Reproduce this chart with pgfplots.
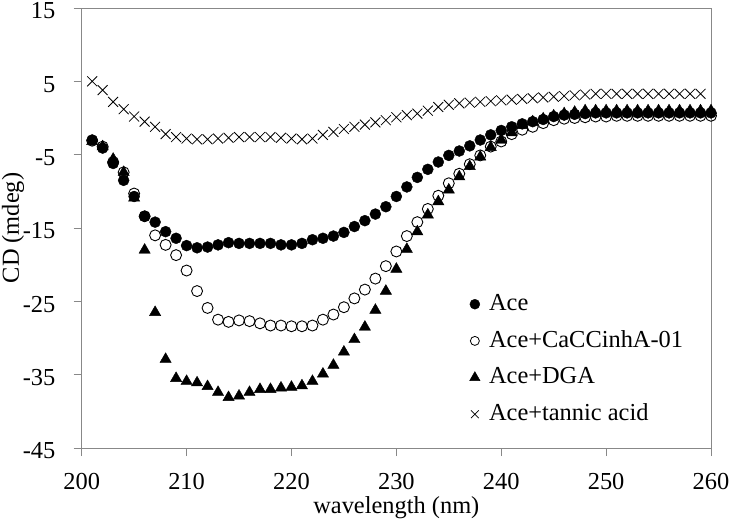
\documentclass[border=0pt]{standalone}
\usepackage{fontspec}
\setmainfont{Liberation Serif}
\usepackage{pgfplots}
\pgfplotsset{compat=1.18}
\definecolor{axgray}{HTML}{888888}
\begin{document}
\fontsize{24.5}{29}\selectfont
\begin{tikzpicture}
\begin{axis}[
  scale only axis,
  width=629.3bp, height=440bp,
  at={(0,0)}, anchor=south west,
  xmin=200, xmax=260, ymin=-45, ymax=15,
  xtick={200,210,...,260},
  ytick={-45,-35,-25,-15,-5,5,15},
  yticklabels={-45,-35,-25,-15,-5,5,15},
  xticklabels={200,210,220,230,240,250,260},
  tick align=outside,
  xtick pos=left, ytick pos=left,
  major tick length=8bp,
  axis line style={axgray, line width=0.8bp},
  every tick/.style={axgray, line width=0.8bp},
  tick label style={font=\fontsize{24.5}{29}\selectfont},
  xticklabel style={yshift=-9bp},
  yticklabel style={xshift=-10bp, yshift=-3bp},
  label style={font=\fontsize{24.5}{29}\selectfont},
  xlabel={wavelength (nm)},
  ylabel={CD (mdeg)},
  xlabel style={at={(axis description cs:0.5,-0.135)}, anchor=center},
  ylabel style={at={(axis description cs:-0.109,0.5)}, anchor=center, rotate=0},
  legend style={draw=none, fill=none, at={(axis cs:236.4,-23.2)}, anchor=north west,
    font=\fontsize{24.5}{29}\selectfont, row sep=8.5bp,
    nodes={inner ysep=4bp}},
  legend cell align=left,
  legend image code/.code={\path (-8bp,0bp) (12bp,0bp); \draw[#1] plot coordinates {(0bp,0bp)};},
]
% drawn in z-order: open circles, triangles, filled circles, crosses
\addplot[only marks, mark=o, mark size=5.5bp, mark options={black, line width=0.9bp}, forget plot] coordinates {
(201,-3.1)(202,-3.9)(203,-6.0)(204,-7.4)(205,-10.3)(206,-13.4)(207,-16.0)(208,-17.3)(209,-18.7)(210,-20.8)
(211,-23.6)(212,-25.9)(213,-27.5)(214,-27.8)(215,-27.6)(216,-27.7)(217,-28.0)(218,-28.3)(219,-28.3)(220,-28.4)
(221,-28.4)(222,-28.3)(223,-27.5)(224,-26.8)(225,-25.8)(226,-24.6)(227,-23.4)(228,-21.9)(229,-20.2)(230,-18.2)
(231,-16.1)(232,-14.2)(233,-12.4)(234,-10.6)(235,-8.9)(236,-7.6)(237,-6.3)(238,-5.1)(239,-3.9)(240,-3.2)
(241,-2.2)(242,-1.6)(243,-1.2)(244,-0.7)(245,-0.3)(246,-0.1)(247,0.0)(248,0.1)(249,0.2)(250,0.2)
(251,0.3)(252,0.3)(253,0.3)(254,0.3)(255,0.3)(256,0.3)(257,0.3)(258,0.3)(259,0.3)(260,0.3)};
\addplot[only marks, mark=triangle*, mark size=6.5bp, mark options={black, fill=black}, forget plot] coordinates {
(201,-3.2)(202,-3.9)(203,-5.6)(204,-7.4)(205,-10.9)(206,-18.0)(207,-26.5)(208,-32.9)(209,-35.5)(210,-35.9)
(211,-36.1)(212,-36.6)(213,-37.4)(214,-38.1)(215,-37.9)(216,-37.4)(217,-37.0)(218,-37.0)(219,-36.8)(220,-36.7)
(221,-36.5)(222,-35.9)(223,-34.9)(224,-33.7)(225,-31.9)(226,-30.2)(227,-28.5)(228,-26.2)(229,-23.6)(230,-20.6)
(231,-17.9)(232,-15.5)(233,-13.2)(234,-11.4)(235,-9.8)(236,-8.0)(237,-6.6)(238,-5.3)(239,-4.0)(240,-3.0)
(241,-2.0)(242,-1.0)(243,-0.5)(244,-0.1)(245,0.3)(246,0.6)(247,0.8)(248,1.0)(249,1.0)(250,1.0)
(251,1.0)(252,1.0)(253,1.0)(254,1.0)(255,1.0)(256,1.0)(257,1.0)(258,1.0)(259,1.0)(260,1.0)};
\addplot[only marks, mark=*, mark size=5.5bp, mark options={black, fill=black}, forget plot] coordinates {
(201,-3.0)(202,-4.1)(203,-6.2)(204,-8.5)(205,-10.7)(206,-13.4)(207,-14.2)(208,-15.5)(209,-16.4)(210,-17.4)
(211,-17.7)(212,-17.6)(213,-17.3)(214,-17.0)(215,-17.1)(216,-17.1)(217,-17.1)(218,-17.1)(219,-17.3)(220,-17.3)
(221,-17.1)(222,-16.6)(223,-16.4)(224,-16.1)(225,-15.6)(226,-14.8)(227,-14.0)(228,-13.1)(229,-12.1)(230,-10.7)
(231,-9.4)(232,-8.1)(233,-7.0)(234,-6.0)(235,-5.1)(236,-4.5)(237,-3.8)(238,-3.0)(239,-2.3)(240,-1.7)
(241,-1.2)(242,-0.8)(243,-0.5)(244,-0.2)(245,0.2)(246,0.4)(247,0.5)(248,0.6)(249,0.7)(250,0.7)
(251,0.7)(252,0.7)(253,0.7)(254,0.7)(255,0.7)(256,0.7)(257,0.7)(258,0.7)(259,0.7)(260,0.7)};
\addplot[only marks, mark=x, mark size=7bp, mark options={black, line width=0.8bp}, forget plot] coordinates {
(201,5.0)(202,3.8)(203,2.2)(204,1.2)(205,0.2)(206,-0.5)(207,-1.2)(208,-2.2)(209,-2.6)(210,-2.8)
(211,-2.9)(212,-2.9)(213,-2.8)(214,-2.7)(215,-2.6)(216,-2.6)(217,-2.6)(218,-2.6)(219,-2.7)(220,-2.8)
(221,-2.9)(222,-2.8)(223,-2.3)(224,-1.9)(225,-1.5)(226,-1.2)(227,-0.9)(228,-0.6)(229,-0.3)(230,0.1)
(231,0.4)(232,0.6)(233,1.0)(234,1.5)(235,1.8)(236,2.0)(237,2.1)(238,2.2)(239,2.3)(240,2.4)
(241,2.5)(242,2.6)(243,2.7)(244,2.8)(245,2.9)(246,3.0)(247,3.1)(248,3.2)(249,3.3)(250,3.3)
(251,3.3)(252,3.3)(253,3.3)(254,3.3)(255,3.3)(256,3.3)(257,3.3)(258,3.3)(259,3.3)};
\addlegendimage{only marks, mark=*, mark size=5bp, mark options={black, fill=black}}
\addlegendentry{Ace}
\addlegendimage{only marks, mark=o, mark size=4.5bp, mark options={black, line width=0.8bp}}
\addlegendentry{Ace+CaCCinhA-01}
\addlegendimage{only marks, mark=triangle*, mark size=6bp, mark options={black, fill=black}}
\addlegendentry{Ace+DGA}
\addlegendimage{only marks, mark=x, mark size=5.5bp, mark options={black, line width=0.7bp}}
\addlegendentry{Ace+tannic acid}
\end{axis}
\pgfresetboundingbox
\path[use as bounding box] (-81.7bp,-82bp) rectangle (649.3bp,448bp);
\end{tikzpicture}
\end{document}
